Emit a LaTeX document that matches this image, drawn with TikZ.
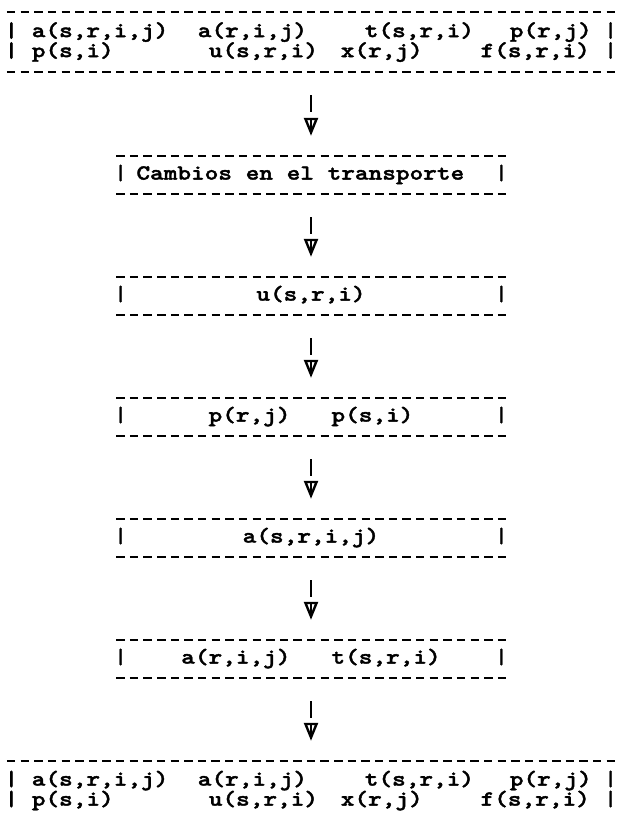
\documentclass[tikz,border=0pt]{standalone}
\usepackage{fontspec}
\newfontfamily\typer{lmmonolt10-bold.otf}[FakeStretch=1.21, FakeBold=1.8]
\usetikzlibrary{arrows.meta}
\newlength\cw
\setlength\cw{13.65pt}
% one printed row of the wide boxes: fixed-width cells
\newcommand\cell[2]{\makebox[#1pt][l]{#2}}
\newcommand\narrowrow[1]{\hbox to 394.4pt{|\hfil #1\hfil|}}
\begin{document}
\begin{tikzpicture}[x=1pt,y=-1pt,
  txt/.style={font=\typer\fontsize{21.5}{19}\selectfont,
    inner sep=0pt, text height=13.5pt, text depth=4.3pt},
  wideframe/.style={inner sep=0pt, minimum width=612.9pt, minimum height=60pt},
  narrowframe/.style={txt, minimum width=394.4pt, minimum height=38pt},
  rule/.style={line width=2.2pt, dash pattern=on 8.4pt off 5.23pt, dash phase=11pt},
  flowbar/.style={line width=2.3pt, dash pattern=on 17pt off 300pt,
    shorten <=23pt, shorten >=20pt,
    -{Triangle[open, length=18pt, width=14pt, line width=2.4pt]}},
  flowstem/.style={line width=2.2pt, shorten <=46pt, shorten >=23pt},
]
\useasboundingbox (0,0) rectangle (620,827);

% input table
\node[wideframe] (top) at (311,42) {};
\node[txt] (topA) at ([yshift=9.5pt]top.center)
  {\cell{27.3}{|}\cell{166}{a(s,r,i,j)}\cell{167}{a(r,i,j)}\cell{145}{t(s,r,i)}\cell{94}{p(r,j)}|};
\node[txt] (topB) at ([yshift=-10.5pt]top.center)
  {\cell{27.3}{|}\cell{177}{p(s,i)}\cell{132}{u(s,r,i)}\cell{139.8}{x(r,j)}\cell{123.2}{f(s,r,i)}|};

% chain of steps
\node[narrowframe] (b2) at (311,175)
  {\hbox to 394.4pt{|\hspace{9pt}Cambios en el transporte\hfil|}};
\node[narrowframe] (b3) at (311,296) {\narrowrow{u(s,r,i)}};
\node[narrowframe] (b4) at (311,417) {\narrowrow{p(r,j)\hspace{3\cw}p(s,i)}};
\node[narrowframe] (b5) at (311,538) {\narrowrow{a(s,r,i,j)}};
\node[narrowframe] (b6) at (311,659) {\narrowrow{a(r,i,j)\hspace{3\cw}t(s,r,i)}};

% output table
\node[wideframe] (bot) at (311,791) {};
\node[txt] (botA) at ([yshift=10pt]bot.center)
  {\cell{27.3}{|}\cell{166}{a(s,r,i,j)}\cell{167}{a(r,i,j)}\cell{145}{t(s,r,i)}\cell{94}{p(r,j)}|};
\node[txt] (botB) at ([yshift=-10pt]bot.center)
  {\cell{27.3}{|}\cell{177}{p(s,i)}\cell{132}{u(s,r,i)}\cell{139.8}{x(r,j)}\cell{123.2}{f(s,r,i)}|};

% dashed rules above and below each box
\foreach \b in {top,b2,b3,b4,b5,b6} {
  \draw[rule] (\b.north west) -- (\b.north east);
  \draw[rule] (\b.south west) -- (\b.south east);
}
\draw[rule] (bot.north west) -- (bot.north east);

% arrows between boxes
\foreach \a/\c in {top/b2,b2/b3,b3/b4,b4/b5,b5/b6,b6/bot} {
  \draw[flowbar] (\a) -- (\c);
  \draw[flowstem] (\a) -- (\c);
}
\end{tikzpicture}
\end{document}
